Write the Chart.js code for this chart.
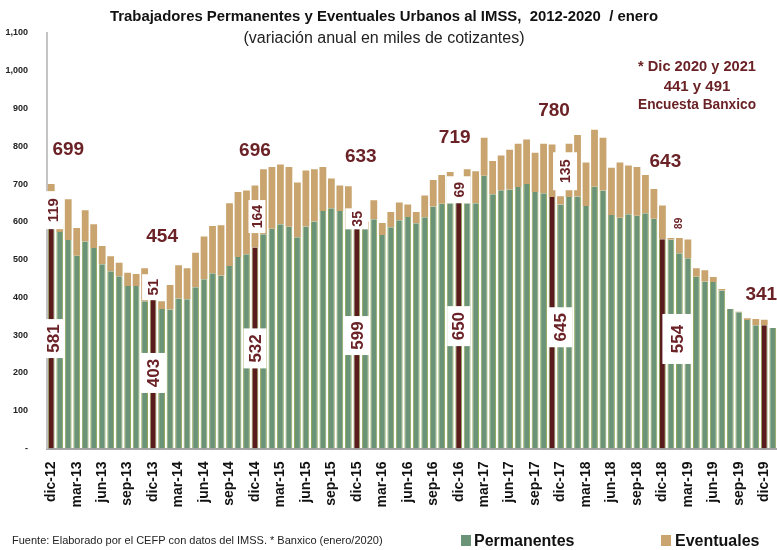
<!DOCTYPE html>
<html lang="es">
<head>
<meta charset="UTF-8">
<title>Trabajadores Permanentes y Eventuales Urbanos al IMSS</title>
<style>
  body { margin: 0; background: #fff; }
  #wrap { width: 777px; height: 550px; }
</style>
<script src="https://cdn.jsdelivr.net/npm/chart.js"></script>
</head>
<body>
<div id="wrap"><canvas id="myChart" width="777" height="550"></canvas></div>
<script>
// months dic-12 .. ene-20
const monthNames = ['ene','feb','mar','abr','may','jun','jul','ago','sep','oct','nov','dic'];
const categories = [];
for (let k = 0; k < 86; k++) {
  categories.push(monthNames[(11 + k) % 12] + '-' + (12 + Math.floor((11 + k) / 12)));
}

// variación anual, miles de cotizantes
const permanentes = [
  581,573,552,510,548,531,488,469,456,430,430,390,
  403,369,368,397,395,427,448,464,458,483,507,514,
  532,567,582,594,587,559,588,601,629,636,629,582,
  599,581,607,565,586,604,613,596,612,641,648,649,
  650,649,649,722,673,684,686,692,700,679,676,666,
  646,666,667,642,693,683,618,611,620,616,623,608,
  554,553,517,504,455,442,441,418,369,361,340,326,
  326,319
];
const eventuales = [
  119,21,108,74,83,63,48,40,36,35,32,87,
  51,21,65,88,82,91,113,125,133,166,172,169,
  164,172,163,158,158,145,148,138,116,79,67,112,
  35,20,50,32,40,47,33,30,58,70,76,83,
  69,90,85,101,88,92,105,115,118,104,131,139,
  22,141,163,115,151,140,125,146,129,129,101,79,
  89,4,40,49,22,30,13,4,0,1,5,17,
  15,0
];

// highlighted bars and their labels
const highlightIdx = [0, 12, 24, 36, 48, 59, 72, 84];
const decPerm  = [581, 403, 532, 599, 650, 645, 554];
const decEvent = [119, 51, 164, 35, 69, 135, 89];
const decTotal = [699, 454, 696, 633, 719, 780, 643, 341];
const banxico = [441, 491];

const yTicks = [0,100,200,300,400,500,600,700,800,900,1000,1100];

const GREEN = '#6a9377';
const TAN = '#c9a46e';
const DARK = '#5a1b1d';
const LABEL = '#6b2226';

const permColors = categories.map((c, i) => highlightIdx.includes(i) ? DARK : GREEN);

// where the label boxes sit (value-axis position, pixel offset, box size, font)
const permBoxes = [
  { v: 291, dx: 2,  w: 21, h: 39, size: 17 },
  { v: 200, dx: 0,  w: 26, h: 40, size: 17 },
  { v: 265, dx: 0,  w: 23, h: 40, size: 17 },
  { v: 299, dx: 0,  w: 25, h: 39, size: 17 },
  { v: 324, dx: 0,  w: 23, h: 40, size: 17 },
  { v: 321, dx: 8,  w: 24, h: 40, size: 17 },
  { v: 290, dx: 15, w: 30, h: 50, size: 17 }
];
const eventBoxes = [
  { v: 631, dx: 2,  w: 20, h: 38, size: 15 },
  { v: 427, dx: 0,  w: 22, h: 26, size: 15 },
  { v: 614, dx: 2,  w: 17, h: 33, size: 14 },
  { v: 608, dx: 0,  w: 23, h: 21, size: 14 },
  { v: 685, dx: 0,  w: 24, h: 27, size: 14 },
  { v: 734, dx: 13, w: 24, h: 38, size: 14 },
  { v: 596, dx: 16, w: 0,  h: 0,  size: 10 }
];
const totalPos = [
  { v: 790, dx: 17 }, { v: 560, dx: 9 }, { v: 788, dx: 0 }, { v: 772, dx: 4 },
  { v: 822, dx: -4 }, { v: 893, dx: 2 }, { v: 759, dx: 3 }, { v: 406, dx: -3 }
];

const FONT = "'Liberation Sans', Arial, sans-serif";

const annot = {
  id: 'annot',
  afterDatasetsDraw(chart) {
    const { ctx, scales: { x, y } } = chart;
    ctx.save();
    ctx.textAlign = 'center';
    ctx.textBaseline = 'middle';

    function vbox(i, b, txt, bold) {
      const cx = x.getPixelForValue(highlightIdx[i]) + b.dx;
      const cy = y.getPixelForValue(b.v);
      if (b.w > 0) {
        ctx.fillStyle = '#fff';
        ctx.fillRect(cx - b.w / 2, cy - b.h / 2, b.w, b.h);
      }
      ctx.save();
      ctx.translate(cx, cy);
      ctx.rotate(-Math.PI / 2);
      ctx.fillStyle = LABEL;
      ctx.font = (bold ? 'bold ' : '') + b.size + 'px ' + FONT;
      ctx.fillText(String(txt), 0, 1);
      ctx.restore();
    }
    decPerm.forEach((v, i) => vbox(i, permBoxes[i], v, true));
    decEvent.forEach((v, i) => vbox(i, eventBoxes[i], v, true));

    ctx.fillStyle = LABEL;
    ctx.font = 'bold 19px ' + FONT;
    decTotal.forEach((v, i) => {
      const p = totalPos[i];
      ctx.fillText(String(v), x.getPixelForValue(highlightIdx[i]) + p.dx, y.getPixelForValue(p.v));
    });

    ctx.font = 'bold 15px ' + FONT;
    ctx.fillText('* Dic 2020 y 2021', 697, 67, 118);
    ctx.fillText(banxico[0] + ' y ' + banxico[1], 697, 87);
    ctx.fillText('Encuesta Banxico', 697, 105, 118);
    ctx.restore();
  },
  afterDraw(chart) {
    const { ctx } = chart;
    ctx.save();
    ctx.textBaseline = 'middle';
    ctx.fillStyle = '#111';
    ctx.textAlign = 'center';
    ctx.font = 'bold 15px ' + FONT;
    ctx.fillText('Trabajadores Permanentes y Eventuales Urbanos al IMSS,  2012-2020  / enero', 384, 17, 548);
    ctx.fillStyle = '#222';
    ctx.font = '16px ' + FONT;
    ctx.fillText('(variación anual en miles de cotizantes)', 384, 39, 292);

    ctx.textAlign = 'left';
    ctx.font = '11px ' + FONT;
    ctx.fillStyle = '#222';
    ctx.fillText('Fuente: Elaborado por el CEFP con datos del IMSS. * Banxico (enero/2020)', 12, 541, 388);

    ctx.font = 'bold 16px ' + FONT;
    ctx.fillStyle = GREEN;
    ctx.fillRect(461, 535, 10, 11);
    ctx.fillStyle = '#111';
    ctx.fillText('Permanentes', 474, 542);
    ctx.fillStyle = TAN;
    ctx.fillRect(661, 535, 10, 11);
    ctx.fillStyle = '#111';
    ctx.fillText('Eventuales', 675, 542);
    ctx.restore();
  }
};

const ctx = document.getElementById('myChart').getContext('2d');
const chart = new Chart(ctx, {
  type: 'bar',
  data: {
    labels: categories,
    datasets: [
      {
        label: 'Permanentes',
        data: permanentes,
        backgroundColor: permColors,
        borderColor: '#93a85a',
        borderWidth: { left: 1, right: 1, top: 0, bottom: 0 },
        borderSkipped: false,
        categoryPercentage: 1,
        barPercentage: 0.8
      },
      {
        label: 'Eventuales',
        data: eventuales,
        backgroundColor: TAN,
        borderWidth: 0,
        categoryPercentage: 1,
        barPercentage: 0.8
      }
    ]
  },
  options: {
    responsive: false,
    animation: false,
    devicePixelRatio: 1,
    layout: { padding: { top: 33, bottom: 31.5, left: 0, right: 0 } },
    plugins: {
      legend: { display: false },
      tooltip: { enabled: false },
      title: { display: false }
    },
    scales: {
      x: {
        stacked: true,
        grid: { display: false },
        border: { display: true, color: '#a6a6a6', width: 2 },
        ticks: {
          autoSkip: false,
          maxRotation: 90,
          minRotation: 90,
          padding: 5,
          color: '#111',
          font: { family: FONT, size: 14, weight: 'bold' },
          callback: function(val, i) { return i % 3 === 0 ? categories[i] : ''; }
        },
        afterFit: s => { s.height = 70; s.paddingLeft = 0; s.paddingRight = 0; }
      },
      y: {
        stacked: true,
        min: 0,
        max: 1100,
        afterBuildTicks: s => { s.ticks = yTicks.map(v => ({ value: v })); },
        grid: { display: false },
        border: { display: true, color: '#c4c4c4', width: 2 },
        ticks: {
          padding: 11,
          color: '#222',
          font: { family: FONT, size: 9, weight: 'bold' },
          callback: v => v === 0 ? '-' : v.toLocaleString('en-US')
        },
        afterFit: s => { s.width = 47; }
      }
    }
  },
  plugins: [annot]
});
</script>
</body>
</html>
